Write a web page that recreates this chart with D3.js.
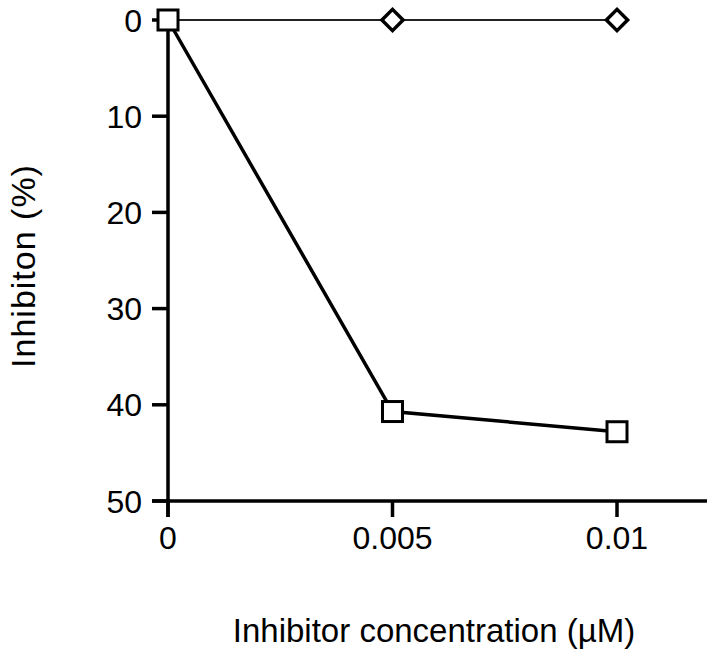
<!DOCTYPE html>
<html>
<head>
<meta charset="utf-8">
<script src="https://cdn.jsdelivr.net/npm/d3@7"></script>
<style>
  body { margin: 0; background: #fff; }
  svg { display: block; font-family: "Liberation Sans", Arial, sans-serif; }
</style>
</head>
<body>
<div id="chart"></div>
<script>
// concentrations (µM) and inhibition (%)
const concentrations = [0, 0.005, 0.01];
const inhibitorA = [0, 40.7, 42.8];   // squares, thick line
const inhibitorB = [0, 0, 0];         // diamonds, thin line
const yTicks = [0, 10, 20, 30, 40, 50];
const xTickLabels = ["0", "0.005", "0.01"];

const width = 720, height = 658;

const x = d3.scaleLinear().domain([0, 0.01]).range([168, 617]);
const y = d3.scaleLinear().domain([0, 50]).range([20, 501]);

const svg = d3.select("#chart")
  .append("svg")
  .attr("width", width)
  .attr("height", height);

// axes
svg.append("line")
  .attr("x1", 152).attr("x2", 707)
  .attr("y1", y(50)).attr("y2", y(50))
  .attr("stroke", "#000").attr("stroke-width", 3.5);
svg.append("line")
  .attr("x1", x(0)).attr("x2", x(0))
  .attr("y1", y(0)).attr("y2", y(50) + 16)
  .attr("stroke", "#000").attr("stroke-width", 3.5);

svg.selectAll(".ytick")
  .data(yTicks)
  .join("line")
    .attr("x1", x(0) - 16).attr("x2", x(0))
    .attr("y1", d => y(d)).attr("y2", d => y(d))
    .attr("stroke", "#000").attr("stroke-width", 3.5);

svg.selectAll(".ylabel")
  .data(yTicks)
  .join("text")
    .attr("x", 142)
    .attr("y", d => y(d))
    .attr("dy", "0.36em")
    .attr("text-anchor", "end")
    .attr("font-size", 32)
    .text(d => d);

svg.selectAll(".xtick")
  .data(concentrations)
  .join("line")
    .attr("x1", d => x(d)).attr("x2", d => x(d))
    .attr("y1", y(50)).attr("y2", y(50) + 16)
    .attr("stroke", "#000").attr("stroke-width", 3.5);

svg.selectAll(".xlabel")
  .data(concentrations)
  .join("text")
    .attr("x", d => x(d))
    .attr("y", 549)
    .attr("text-anchor", "middle")
    .attr("font-size", 32)
    .text((d, i) => xTickLabels[i]);

// axis titles
svg.append("text")
  .attr("transform", "translate(35,266) rotate(-90)")
  .attr("text-anchor", "middle")
  .attr("font-size", 34)
  .attr("letter-spacing", 1)
  .text("Inhibiton (%)");

svg.append("text")
  .attr("x", 434)
  .attr("y", 642)
  .attr("text-anchor", "middle")
  .attr("font-size", 33)
  .text("Inhibitor concentration (µM)");

// series B: thin line with diamonds
const line = d3.line()
  .x((d, i) => x(concentrations[i]))
  .y(d => y(d));

svg.append("path")
  .datum(inhibitorB)
  .attr("d", line)
  .attr("fill", "none")
  .attr("stroke", "#222")
  .attr("stroke-width", 2);

// series A: thick line with squares
svg.append("path")
  .datum(inhibitorA)
  .attr("d", line)
  .attr("fill", "none")
  .attr("stroke", "#000")
  .attr("stroke-width", 3.5);

svg.selectAll(".diamond")
  .data(inhibitorB.slice(1))
  .join("path")
    .attr("transform", (d, i) => `translate(${x(concentrations[i + 1])},${y(d)}) rotate(45)`)
    .attr("d", "M-7.5,-7.5H7.5V7.5H-7.5Z")
    .attr("fill", "#fff")
    .attr("stroke", "#000")
    .attr("stroke-width", 3.5);

svg.selectAll(".square")
  .data(inhibitorA)
  .join("rect")
    .attr("x", (d, i) => x(concentrations[i]) - 10)
    .attr("y", d => y(d) - 10)
    .attr("width", 20)
    .attr("height", 20)
    .attr("fill", "#fff")
    .attr("stroke", "#000")
    .attr("stroke-width", 3);
</script>
</body>
</html>
